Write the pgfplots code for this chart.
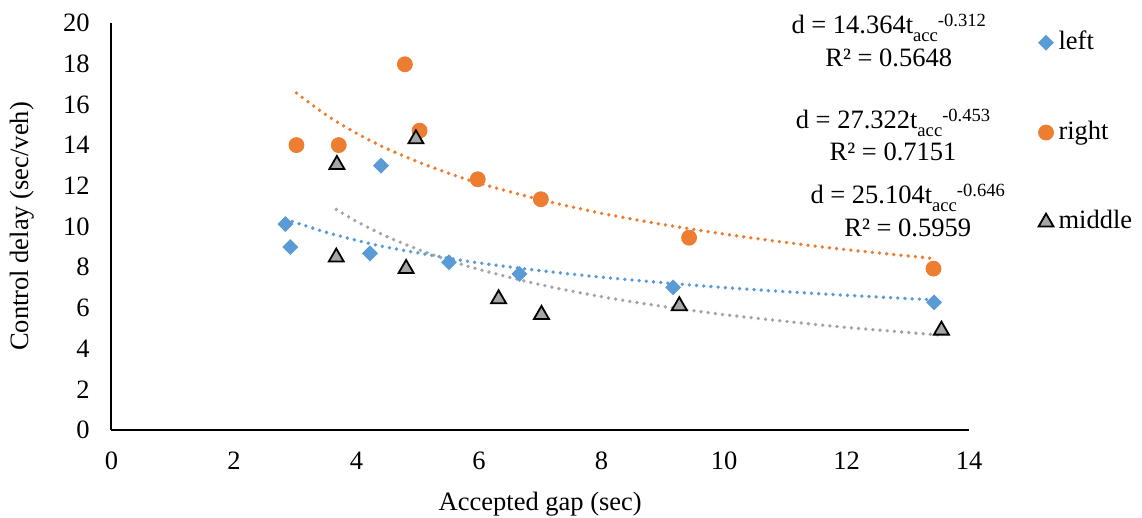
\documentclass[border=0pt]{standalone}
\usepackage{fontspec}
\setmainfont{Liberation Serif}
\usepackage{pgfplots}
\pgfplotsset{compat=1.18}

\definecolor{cleft}{HTML}{5B9BD5}
\definecolor{cright}{HTML}{ED7D31}
\definecolor{cmid}{HTML}{A5A5A5}

\newcommand{\lbl}{\fontsize{13.25}{16}\selectfont}
\newcommand{\sm}{\fontsize{9.3}{11}\selectfont}
% trendline equation, Excel style: d = a t_acc ^-b
\newcommand{\eqn}[2]{d = #1t\raisebox{-4pt}{\sm acc}\raisebox{3.5pt}{\sm -#2}}

\begin{document}
\begin{tikzpicture}
\path[use as bounding box] (-55.75pt,-44pt) rectangle (515.25pt,215pt);
\begin{axis}[
    at={(0pt,0pt)}, anchor=south west,
    width=428.75pt, height=203.5pt, scale only axis,
    xmin=0, xmax=14, ymin=0, ymax=20,
    xtick={0,2,...,14}, ytick={0,2,...,20},
    axis x line*=bottom, axis y line*=left,
    axis line style={-, line width=1pt, black},
    major tick length=0pt,
    tick label style={font=\lbl},
    /pgf/number format/assume math mode=true,
    xticklabel style={anchor=base, yshift=-20pt},
    yticklabel style={anchor=east, inner sep=0pt, xshift=-10.75pt},
    xlabel={Accepted gap (sec)},
    ylabel={Control delay (sec/veh)},
    every axis x label/.style={at={(axis description cs:0.5,-0.199)}, anchor=base, font=\lbl},
    every axis y label/.style={at={(axis description cs:-0.1045,0.5)}, anchor=center, rotate=90, font=\lbl},
    clip=false,
    legend cell align=left,
    legend style={draw=none, fill=none, inner sep=0pt, outer sep=0pt,
        at={(axis description cs:1.0811,0.9904)}, anchor=north west,
        font=\lbl, row sep=29.15pt, column sep=1.5pt,
        nodes={inner xsep=1pt, inner ysep=2pt, text depth=0.25em}},
    legend image code/.code={\draw[#1] plot coordinates {(0pt,0pt)};},
    trend/.style={line width=1.9pt, line cap=round, dash pattern=on 0pt off 3.6pt, smooth, forget plot},
]

% left
\addplot[only marks, mark=square*, mark size=2.6pt,
    mark options={rotate=45, fill=cleft, draw=cleft}] coordinates {
    (2.84,10.12) (2.92,8.99) (4.40,12.99) (4.22,8.68)
    (5.51,8.24) (6.66,7.67) (9.17,7.01) (13.43,6.27)
};
\addlegendentry{left}

% right
\addplot[only marks, mark=*, mark size=3.75pt,
    mark options={fill=cright, draw=cright}] coordinates {
    (3.02,14.00) (3.71,14.00) (4.79,17.97) (5.03,14.71)
    (5.98,12.32) (7.01,11.34) (9.43,9.45) (13.42,7.93)
};
\addlegendentry{right}

% middle
\addplot[only marks, mark=triangle*, mark size=4.33pt,
    mark options={fill=cmid, draw=black, line width=0.9pt}] coordinates {
    (3.68,13.04) (4.97,14.30) (3.67,8.49) (4.81,7.93)
    (6.32,6.44) (7.02,5.67) (9.27,6.10) (13.55,4.90)
};
\addlegendentry{middle}

% power trendlines
\addplot[trend, color=cleft] coordinates {
    (2.84,10.37) (3,10.20) (3.5,9.72) (4,9.32) (4.5,8.98) (5.5,8.44) (6,8.21)
    (7,7.83) (8,7.51) (9,7.24) (10,7.00) (11,6.80) (12,6.62) (13.43,6.39)
};
\addplot[trend, color=cright] coordinates {
    (3.02,16.56) (3.5,15.49) (4,14.58) (4.5,13.82) (5,13.18) (5.5,12.62) (6,12.13)
    (7,11.32) (8,10.65) (9,10.10) (10,9.63) (11,9.22) (12,8.86) (13.42,8.43)
};
\addplot[trend, color=cmid] coordinates {
    (3.67,10.84) (4,10.25) (4.5,9.50) (5,8.88) (5.5,8.35) (6,7.89)
    (7,7.14) (8,6.55) (9,6.07) (10,5.67) (11,5.34) (12,5.04) (13.55,4.66)
};

\node[anchor=base, font=\lbl] at (axis cs:12.69,19.46) {\eqn{14.364}{0.312}};
\node[anchor=base, font=\lbl] at (axis cs:12.69,17.84) {R² = 0.5648};
\node[anchor=base, font=\lbl] at (axis cs:12.76,14.84) {\eqn{27.322}{0.453}};
\node[anchor=base, font=\lbl] at (axis cs:12.76,13.22) {R² = 0.7151};
\node[anchor=base, font=\lbl] at (axis cs:13.00,11.15) {\eqn{25.104}{0.646}};
\node[anchor=base, font=\lbl] at (axis cs:13.00,9.53) {R² = 0.5959};
\end{axis}
\end{tikzpicture}
\end{document}
